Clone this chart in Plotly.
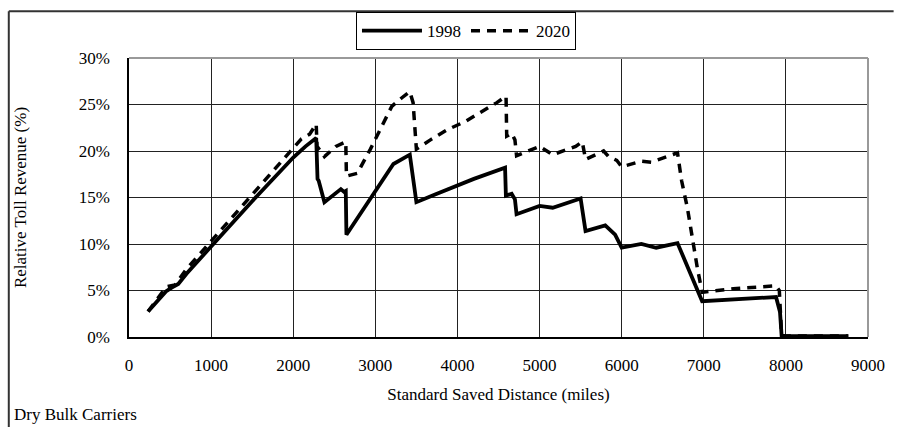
import plotly.graph_objects as go

# ---- data ----
x_1998 = [232, 450, 520, 600, 700, 1000, 1160, 1500, 2000, 2150, 2280, 2296, 2310, 2380,
          2580, 2620, 2640, 2648, 3220, 3420, 3500, 3720, 3860, 4200, 4580, 4590, 4660,
          4700, 4720, 5000, 5160, 5500, 5560, 5800, 5920, 6000, 6240, 6420, 6680, 6980,
          7880, 7928, 7948, 8000, 8760]
y_1998 = [2.75, 4.9, 5.3, 5.7, 6.8, 9.8, 11.3, 14.6, 19.3, 20.5, 21.4, 17.0, 16.8, 14.5,
          15.9, 15.6, 15.7, 11.0, 18.6, 19.6, 14.5, 15.3, 15.8, 17.0, 18.2, 15.2, 15.4,
          14.8, 13.2, 14.1, 13.9, 14.9, 11.4, 12.0, 11.0, 9.6, 10.0, 9.6, 10.1, 3.85,
          4.3, 2.7, 0.15, 0.1, 0.1]

x_2020 = [232, 456, 560, 620, 700, 920, 1060, 1160, 1360, 1580, 1760, 1940, 2100, 2200,
          2280, 2290, 2380, 2520, 2620, 2640, 2648, 2780, 2940, 3080, 3200, 3320, 3420,
          3460, 3480, 3500, 3680, 3880, 4100, 4480, 4592, 4600, 4660, 4700, 4720, 5000,
          5160, 5440, 5520, 5560, 5780, 5840, 5940, 6000, 6240, 6360, 6680, 6730, 6800,
          6860, 6920, 6980, 7360, 7880, 7920, 7948, 8000, 8760]
y_2020 = [2.75, 5.4, 5.6, 6.3, 7.3, 9.5, 10.9, 12.0, 13.9, 16.1, 18.0, 19.8, 21.3, 21.8,
          22.9, 20.5, 19.4, 20.5, 21.0, 21.0, 17.3, 17.6, 20.2, 22.7, 24.8, 25.7, 26.4,
          25.2, 22.9, 20.2, 21.25, 22.3, 23.2, 25.2, 25.9, 21.6, 21.9, 21.2, 19.5, 20.5,
          19.6, 20.5, 21.0, 19.1, 20.0, 19.4, 19.0, 18.3, 18.9, 18.8, 19.8, 16.8, 13.9,
          10.5, 7.5, 4.8, 5.2, 5.5, 5.0, 0.15, 0.1, 0.1]

x_ticks = [0, 1000, 2000, 3000, 4000, 5000, 6000, 7000, 8000, 9000]
y_ticks = [0, 5, 10, 15, 20, 25, 30]

FONT = "Liberation Serif"

fig = go.Figure()
fig.add_trace(go.Scatter(x=x_1998, y=y_1998, name="1998", mode="lines",
                         line=dict(color="black", width=3.8)))
fig.add_trace(go.Scatter(x=x_2020, y=y_2020, name="2020", mode="lines",
                         line=dict(color="black", width=3.5, dash="9px,7px")))

L, R, T, B = 129, 18, 57, 90
W, H = 897, 427
pw, ph = W - L - R, H - T - B

def px_x(p):
    return (p - L) / pw

def px_y(p):
    return (H - B - p) / ph

fig.update_layout(
    width=W, height=H,
    margin=dict(l=L, r=R, t=T, b=B, pad=0),
    paper_bgcolor="white", plot_bgcolor="white",
    font=dict(family=FONT, size=17, color="black"),
    showlegend=True,
    legend=dict(orientation="h", x=px_x(471), xanchor="center", y=px_y(11), yanchor="top",
                bordercolor="black", borderwidth=1, bgcolor="white",
                font=dict(family=FONT, size=17), itemwidth=60,
                tracegroupgap=0),
    xaxis=dict(range=[0, 9000], tickvals=x_ticks, ticktext=[str(v) for v in x_ticks],
               showgrid=True, gridcolor="#222", gridwidth=1,
               showline=True, linecolor="black", linewidth=1.5,
               zeroline=False, ticks="", ticklabelstandoff=12,
               title=dict(text="Standard Saved Distance (miles)", standoff=14,
                          font=dict(family=FONT, size=17))),
    yaxis=dict(range=[0, 30], tickvals=y_ticks, ticktext=[f"{v}%" for v in y_ticks],
               showgrid=True, gridcolor="#222", gridwidth=1,
               showline=True, linecolor="black", linewidth=1.5,
               zeroline=False, ticks="", ticklabelstandoff=14,
               title=dict(text="Relative Toll Revenue (%)", standoff=48,
                          font=dict(family=FONT, size=17))),
    shapes=[
        # gray top & right borders of plot area
        dict(type="line", xref="paper", yref="paper", x0=0, x1=1, y0=1, y1=1,
             line=dict(color="#999", width=2)),
        dict(type="line", xref="paper", yref="paper", x0=1, x1=1, y0=0, y1=1,
             line=dict(color="#999", width=2)),
        # outer frame (left and top)
        dict(type="line", xref="paper", yref="paper", x0=px_x(7), x1=px_x(7),
             y0=px_y(10), y1=px_y(440), line=dict(color="#333", width=2)),
        dict(type="line", xref="paper", yref="paper", x0=px_x(7), x1=px_x(905),
             y0=px_y(10), y1=px_y(10), line=dict(color="#333", width=2)),
    ],
    annotations=[
        dict(text="Dry Bulk Carriers", xref="paper", yref="paper", x=px_x(10),
             y=px_y(415), xanchor="left", yanchor="middle", showarrow=False,
             font=dict(family=FONT, size=17)),
    ],
)

fig.write_html("out.html")
